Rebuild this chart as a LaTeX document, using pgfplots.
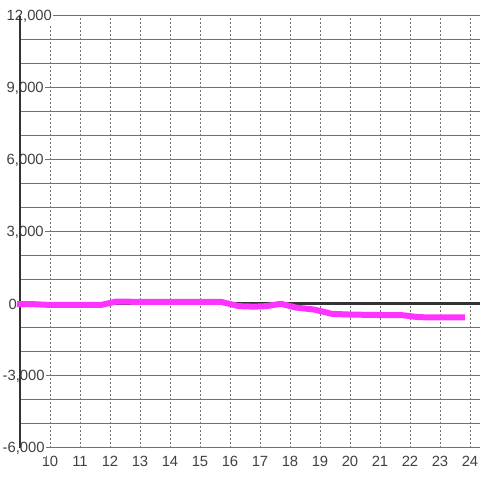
\documentclass[border=0pt]{standalone}
\usepackage{pgfplots}
\pgfplotsset{compat=1.18}
\usepackage{fontspec}
\setmainfont{Liberation Sans}
\definecolor{txt}{RGB}{64,64,64}
\definecolor{gridc}{RGB}{112,112,112}
\definecolor{axc}{RGB}{51,51,51}
\definecolor{mag}{RGB}{255,51,255}
\begin{document}
\begin{tikzpicture}
\begin{axis}[
  name=ax,
  scale only axis,
  width=460pt, height=432pt,
  xmin=9, xmax=24.3333,
  ymin=-6000, ymax=12000,
  clip=false,
  axis line style={draw=none},
  major tick length=0pt, minor tick length=0pt,
  scaled y ticks=false,
  xtick={10,11,...,24},
  ytick={-6000,-3000,0,3000,6000,9000,12000},
  yticklabels={{\hspace*{-4pt}-6,000},{\hspace*{-4pt}-3,000},{\hspace*{2pt}0},{3,000},{6,000},{9,000},{12,000}},
  minor ytick={-5000,-4000,-2000,-1000,1000,2000,4000,5000,7000,8000,10000,11000},
  xmajorgrids, ymajorgrids, yminorgrids,
  major x grid style={gridc, line width=0.9pt, dash pattern=on 2pt off 2pt},
  major y grid style={gridc, line width=1pt, solid},
  minor y grid style={gridc, line width=1pt, solid},
  /pgf/number format/assume math mode=true,
  ticklabel style={font=\fontsize{14.8}{16}\selectfont, text=txt},
  yticklabel style={anchor=west, xshift=-15pt, yshift=-0.5pt, fill=white, inner xsep=1.5pt, inner ysep=2.5pt},
  xticklabel style={yshift=-4.5pt},
]
\addplot[axc, line width=2.5pt] coordinates {(9,-6000) (9,12000)};
\addplot[axc, line width=3pt] coordinates {(9,0) (24.3333,0)};
\addplot[mag, line width=6pt, line join=round] coordinates {
(8.9,0) (9.5,-10) (10,-40) (11,-40) (11.7,-40) (12.2,100) (13,90) (14,90) (15,90) (15.7,90)
(16.3,-90) (16.8,-110) (17.2,-90) (17.7,10) (18.2,-150) (18.8,-230) (19.4,-410) (20,-440)
(21,-460) (21.7,-460) (22.3,-550) (23,-560) (23.83,-560)};
\end{axis}
\pgfresetboundingbox
\path ([shift={(-20pt,-32pt)}]ax.south west) rectangle ([shift={(0pt,16pt)}]ax.north east);
\end{tikzpicture}
\end{document}
